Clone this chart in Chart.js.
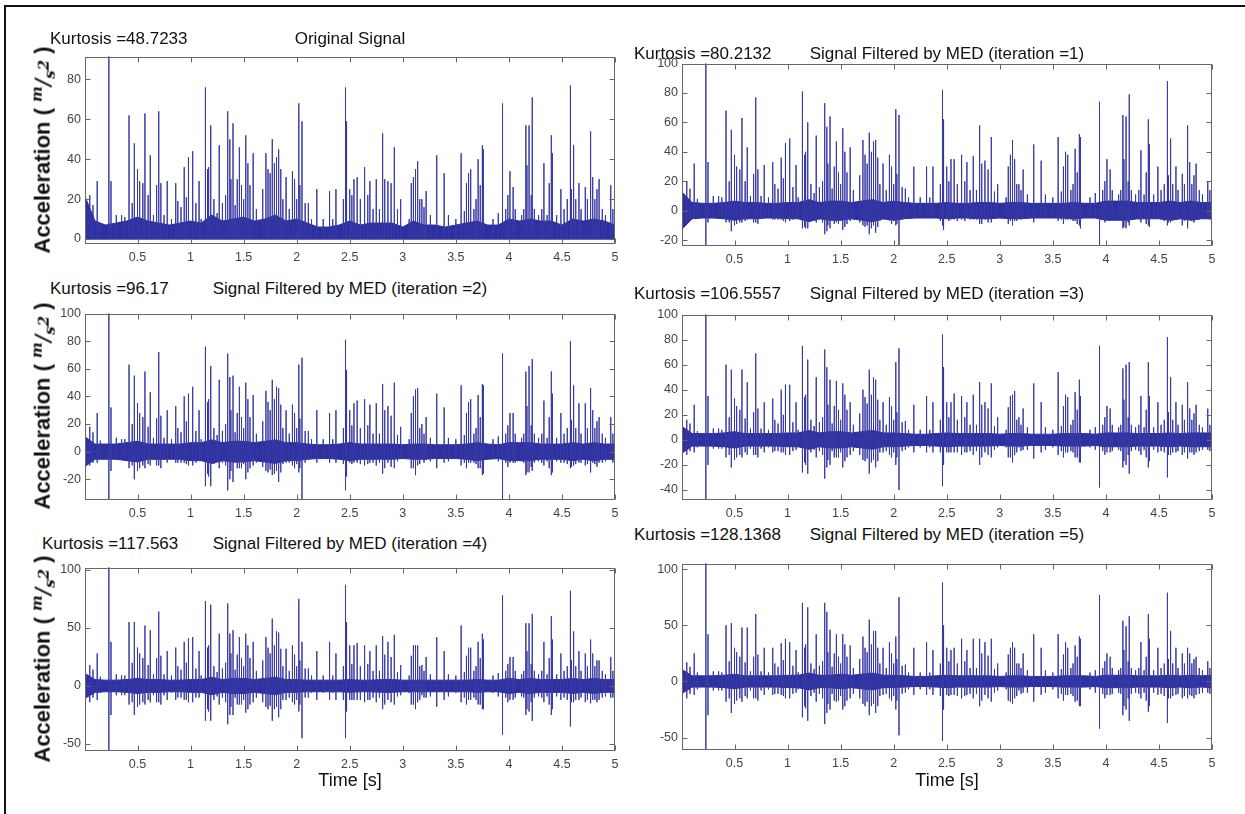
<!DOCTYPE html>
<html>
<head>
<meta charset="utf-8">
<script src="https://cdn.jsdelivr.net/npm/chart.js@4.4.1/dist/chart.umd.min.js"></script>
<style>
  body { margin: 0; background: #fff; width: 1245px; height: 814px; position: relative; overflow: hidden;
         font-family: "Liberation Sans", Arial, sans-serif; }
  #frame { position: absolute; left: 4px; top: 5px; width: 1260px; height: 830px;
           border-left: 2px solid #111; border-top: 2px solid #111; }
  canvas { position: absolute; }
  .kurt, .title, .xlab { position: absolute; font-size: 17px; color: #111; white-space: nowrap; }
  .kurt { transform: translateY(-50%); }
  .title { transform: translate(-50%, -50%); }
  .xlab { transform: translate(-50%, -50%); font-size: 18px; }
  .ylab { position: absolute; font-weight: bold; font-size: 22px; color: #111; white-space: nowrap;
          transform: translate(-50%, -50%) rotate(-90deg); }
  .ylab .u { font-family: "DejaVu Serif", "Liberation Serif", serif; font-style: italic; font-weight: bold; font-size: 20px; }
  .ylab sup, .ylab sub { font-size: 15px; }
</style>
</head>
<body>
<div id="frame"></div>
<script>
const fontFamily = '"Liberation Sans", Arial, sans-serif';

// main impact instants (s), shared by all six traces
const impactTimes = [
  0.01, 0.12, 0.23, 0.25, 0.42, 0.47, 0.57, 0.62, 0.70, 0.78,
  0.86, 0.94, 0.98, 1.02, 1.08, 1.14, 1.19, 1.27, 1.35, 1.40,
  1.46, 1.52, 1.59, 1.71, 1.77, 1.81, 1.83, 1.90, 1.96, 2.02,
  2.05, 2.11, 2.19, 2.31, 2.37, 2.46, 2.50, 2.54, 2.57, 2.64,
  2.69, 2.75, 2.81, 2.86, 2.92, 2.98, 3.10, 3.12, 3.14, 3.18,
  3.22, 3.32, 3.39, 3.55, 3.62, 3.64, 3.71, 3.75, 3.94, 4.01,
  4.04, 4.16, 4.19, 4.22, 4.33, 4.40, 4.49, 4.58, 4.61, 4.66,
  4.72, 4.77, 4.79, 4.85, 4.96
];

// peak values (m/s^2) at each main impact
const peaks0 = [
  43, 29, 95, 29, 62, 48, 63, 42, 64, 29,
  28, 36, 41, 44, 29, 76, 57, 47, 64, 58,
  46, 52, 43, 43, 50, 41, 45, 31, 34, 68,
  59, 18, 25, 24, 25, 76, 25, 30, 31, 36,
  29, 30, 53, 29, 46, 20, 31, 35, 39, 20,
  24, 42, 33, 43, 33, 35, 40, 47, 68, 34,
  26, 57, 57, 71, 38, 52, 25, 77, 47, 28,
  26, 54, 31, 30, 27
];
const peaks1 = [
  45, 32, 110, 33, 68, 55, 63, 43, 77, 31,
  33, 36, 46, 49, 31, 81, 60, 51, 73, 64,
  47, 56, 43, 48, 53, 47, 48, 32, 38, 69,
  65, 15, 30, 30, 30, 82, 30, 35, 35, 38,
  33, 37, 58, 34, 50, 18, 38, 48, 35, 18,
  28, 45, 34, 50, 40, 38, 42, 52, 74, 35,
  28, 65, 64, 79, 41, 62, 30, 88, 49, 30,
  25, 58, 33, 32, 20
];
const peaks2 = [
  35, 28, 110, 32, 63, 55, 58, 43, 72, 30,
  33, 40, 42, 47, 30, 76, 62, 52, 71, 55,
  47, 50, 41, 44, 52, 47, 46, 30, 34, 63,
  68, 15, 30, 28, 30, 81, 30, 35, 37, 38,
  34, 35, 49, 33, 50, 18, 40, 45, 46, 20,
  25, 42, 32, 48, 36, 38, 41, 49, 71, 28,
  28, 58, 62, 67, 37, 58, 28, 80, 48, 35,
  35, 46, 30, 25, 25
];
const peaks3 = [
  33, 28, 110, 35, 60, 56, 56, 46, 69, 30,
  33, 40, 44, 44, 30, 75, 64, 50, 72, 48,
  47, 45, 30, 40, 56, 50, 48, 30, 34, 62,
  73, 15, 28, 35, 30, 84, 30, 30, 37, 35,
  30, 36, 46, 30, 45, 18, 35, 36, 39, 18,
  25, 45, 30, 54, 36, 34, 38, 48, 75, 27,
  25, 57, 60, 62, 35, 62, 30, 82, 50, 30,
  28, 46, 25, 28, 25
];
const peaks4 = [
  40, 28, 120, 38, 55, 55, 52, 48, 64, 30,
  33, 38, 41, 42, 30, 73, 70, 45, 71, 48,
  42, 45, 38, 42, 58, 47, 46, 32, 35, 75,
  38, 15, 30, 38, 28, 87, 35, 35, 37, 35,
  30, 35, 43, 38, 44, 18, 35, 35, 35, 18,
  25, 42, 30, 52, 33, 33, 38, 45, 78, 25,
  25, 54, 54, 62, 38, 60, 28, 82, 47, 30,
  28, 40, 28, 22, 25
];
const peaks5 = [
  40, 25, 120, 42, 50, 52, 48, 48, 60, 30,
  30, 34, 38, 35, 28, 70, 66, 42, 70, 46,
  42, 42, 32, 40, 55, 45, 45, 30, 35, 40,
  75, 15, 30, 35, 28, 88, 30, 28, 30, 38,
  28, 38, 38, 35, 38, 16, 30, 35, 30, 16,
  25, 42, 30, 42, 35, 30, 32, 40, 77, 25,
  22, 54, 49, 58, 35, 60, 30, 79, 45, 30,
  25, 30, 25, 22, 18
];

// negative excursions of the MED filtered traces at each main impact
const dips1 = [
  -10, -5, -40, -8, -8, -14, -8, -6, -8, -5,
  -6, -6, -8, -7, -5, -12, -12, -8, -16, -12,
  -8, -13, -7, -10, -16, -10, -15, -6, -7, -10,
  -40, -4, -5, -5, -5, -10, -5, -6, -6, -6,
  -5, -6, -9, -6, -8, -4, -7, -10, -7, -4,
  -5, -8, -5, -7, -6, -6, -7, -10, -40, -6,
  -5, -12, -12, -10, -8, -10, -5, -10, -8, -6,
  -10, -12, -6, -6, -5
];
const dips2 = [
  -12, -8, -60, -14, -12, -20, -12, -10, -10, -8,
  -8, -8, -10, -10, -6, -25, -25, -12, -28, -22,
  -12, -20, -10, -14, -17, -14, -22, -8, -10, -15,
  -60, -6, -8, -8, -8, -28, -8, -8, -8, -10,
  -8, -10, -16, -8, -12, -5, -12, -17, -10, -5,
  -6, -12, -8, -10, -8, -8, -12, -17, -60, -8,
  -8, -17, -15, -14, -10, -17, -8, -12, -10, -8,
  -10, -15, -8, -8, -6
];
const dips3 = [
  -15, -10, -70, -20, -14, -22, -14, -12, -12, -10,
  -10, -10, -12, -12, -8, -26, -27, -14, -31, -20,
  -14, -22, -12, -16, -27, -16, -22, -10, -12, -20,
  -40, -8, -10, -10, -10, -37, -10, -10, -10, -12,
  -10, -12, -20, -10, -14, -6, -14, -18, -12, -6,
  -8, -15, -10, -12, -10, -10, -14, -18, -38, -10,
  -10, -22, -20, -27, -12, -22, -10, -30, -12, -10,
  -12, -15, -10, -10, -8
];
const dips4 = [
  -27, -12, -80, -25, -16, -25, -16, -14, -14, -12,
  -12, -12, -14, -14, -10, -30, -30, -16, -33, -25,
  -16, -23, -14, -18, -30, -18, -27, -12, -14, -22,
  -45, -10, -12, -12, -12, -45, -12, -12, -12, -14,
  -12, -14, -20, -12, -16, -8, -16, -20, -14, -8,
  -10, -18, -12, -14, -12, -12, -16, -20, -42, -12,
  -12, -25, -22, -30, -14, -25, -12, -35, -14, -12,
  -14, -15, -12, -12, -10
];
const dips5 = [
  -28, -12, -80, -30, -18, -28, -18, -15, -15, -12,
  -12, -12, -15, -15, -10, -32, -35, -18, -38, -25,
  -18, -25, -15, -20, -30, -20, -28, -12, -15, -25,
  -48, -10, -12, -12, -12, -53, -12, -12, -12, -15,
  -12, -15, -22, -12, -18, -8, -18, -20, -15, -8,
  -10, -18, -12, -15, -12, -12, -18, -22, -42, -12,
  -12, -30, -25, -35, -15, -27, -12, -37, -15, -12,
  -15, -15, -12, -12, -10
];

// smaller impulses between the main ones
const minorTimes = [
  0.05, 0.08, 0.15, 0.30, 0.35, 0.38, 0.45, 0.50, 0.52, 0.55,
  0.60, 0.65, 0.68, 0.72, 0.75, 0.82, 0.88, 0.91, 0.96, 1.05,
  1.10, 1.16, 1.17, 1.22, 1.25, 1.30, 1.33, 1.37, 1.38, 1.42,
  1.44, 1.48, 1.50, 1.54, 1.56, 1.62, 1.68, 1.73, 1.75, 1.79,
  1.85, 1.87, 1.93, 1.98, 2.00, 2.03, 2.08, 2.14, 2.25, 2.34,
  2.44, 2.47, 2.52, 2.60, 2.67, 2.72, 2.78, 2.83, 2.89, 2.95,
  3.06, 3.08, 3.16, 3.20, 3.26, 3.43, 3.50, 3.58, 3.60, 3.67,
  3.69, 3.73, 3.76, 3.85, 3.90, 3.97, 3.99, 4.06, 4.12, 4.14,
  4.17, 4.21, 4.24, 4.28, 4.31, 4.36, 4.38, 4.41, 4.45, 4.52,
  4.55, 4.59, 4.63, 4.68, 4.74, 4.81, 4.83, 4.88, 4.91, 4.98
];
const minorUp0 = [
  22, 17, 8, 12, 12, 11, 18, 35, 29, 28,
  22, 12, 27, 28, 12, 10, 19, 16, 21, 18,
  10, 35, 36, 20, 13, 18, 22, 50, 30, 17,
  30, 27, 20, 38, 27, 15, 25, 35, 33, 38,
  35, 20, 15, 30, 20, 27, 18, 10, 10, 10,
  20, 59, 22, 20, 22, 15, 15, 30, 28, 15,
  10, 28, 20, 16, 12, 12, 10, 14, 28, 15,
  20, 27, 45, 10, 13, 15, 22, 15, 12, 15,
  37, 22, 15, 12, 15, 12, 28, 43, 12, 15,
  20, 25, 20, 15, 20, 20, 25, 15, 12, 15
];
const minorUp1 = [
  20, 15, 8, 10, 10, 9, 20, 38, 30, 28,
  20, 10, 25, 28, 10, 9, 18, 15, 22, 16,
  9, 38, 40, 18, 12, 16, 20, 57, 32, 15,
  30, 26, 18, 40, 26, 14, 24, 38, 32, 40,
  36, 18, 14, 30, 18, 25, 16, 9, 9, 9,
  18, 62, 20, 18, 20, 14, 14, 32, 28, 13,
  9, 30, 18, 14, 11, 11, 9, 13, 30, 14,
  18, 26, 50, 9, 12, 14, 20, 14, 11, 14,
  35, 20, 14, 11, 14, 11, 26, 45, 11, 14,
  18, 24, 18, 14, 18, 18, 24, 14, 11, 14
];
const minorDown1 = [
  -8, -6, -4, -5, -5, -5, -8, -10, -9, -8,
  -7, -5, -8, -9, -5, -4, -6, -6, -7, -6,
  -4, -11, -12, -7, -5, -6, -8, -14, -10, -6,
  -9, -9, -7, -11, -9, -6, -8, -11, -10, -12,
  -11, -7, -6, -9, -7, -9, -6, -4, -4, -4,
  -7, -13, -7, -7, -7, -6, -6, -9, -8, -5,
  -4, -9, -7, -6, -5, -5, -4, -6, -9, -6,
  -7, -9, -12, -4, -5, -6, -8, -6, -5, -6,
  -11, -8, -6, -5, -6, -5, -9, -11, -5, -6,
  -7, -8, -7, -6, -7, -7, -8, -6, -5, -6
];
const minorUp2 = [
  18, 14, 8, 10, 9, 9, 20, 35, 28, 25,
  18, 10, 24, 26, 10, 9, 17, 14, 22, 15,
  9, 36, 38, 17, 12, 15, 20, 54, 30, 14,
  28, 25, 17, 38, 25, 13, 22, 36, 30, 38,
  34, 17, 13, 28, 17, 24, 15, 9, 9, 9,
  17, 59, 19, 17, 19, 13, 13, 30, 26, 12,
  9, 28, 17, 13, 10, 10, 9, 12, 28, 13,
  17, 25, 48, 9, 11, 13, 19, 13, 10, 13,
  33, 19, 13, 10, 13, 10, 25, 42, 10, 13,
  17, 23, 17, 13, 17, 17, 22, 13, 10, 13
];
const minorDown2 = [
  -10, -8, -5, -6, -6, -6, -10, -14, -12, -10,
  -9, -6, -10, -12, -6, -5, -8, -8, -9, -8,
  -5, -16, -18, -9, -7, -8, -10, -20, -14, -8,
  -12, -12, -9, -15, -12, -8, -11, -15, -13, -16,
  -15, -9, -8, -12, -9, -12, -8, -5, -5, -5,
  -9, -18, -9, -9, -9, -8, -8, -12, -11, -7,
  -5, -12, -9, -8, -7, -7, -5, -8, -12, -8,
  -9, -12, -16, -5, -7, -8, -11, -8, -7, -8,
  -15, -11, -8, -7, -8, -7, -12, -15, -7, -8,
  -9, -11, -9, -8, -9, -9, -11, -8, -7, -8
];
const minorUp3 = [
  16, 13, 7, 9, 9, 8, 18, 33, 27, 24,
  17, 9, 22, 25, 9, 8, 16, 13, 20, 14,
  8, 34, 36, 16, 11, 14, 18, 58, 28, 13,
  27, 24, 16, 36, 24, 12, 21, 34, 29, 36,
  32, 16, 12, 27, 16, 22, 14, 8, 8, 8,
  16, 58, 18, 16, 18, 12, 12, 28, 25, 11,
  8, 26, 16, 12, 10, 10, 8, 11, 27, 12,
  16, 24, 35, 8, 10, 12, 18, 12, 10, 12,
  32, 18, 12, 10, 12, 10, 24, 35, 10, 12,
  16, 22, 16, 12, 16, 16, 21, 12, 10, 12
];
const minorDown3 = [
  -12, -9, -6, -7, -7, -7, -12, -16, -14, -12,
  -10, -7, -12, -14, -7, -6, -9, -9, -10, -9,
  -6, -18, -20, -10, -8, -9, -12, -22, -16, -9,
  -14, -14, -10, -17, -14, -9, -12, -17, -15, -18,
  -17, -10, -9, -14, -10, -14, -9, -6, -6, -6,
  -10, -20, -10, -10, -10, -9, -9, -14, -12, -8,
  -6, -14, -10, -9, -8, -8, -6, -9, -14, -9,
  -10, -14, -18, -6, -8, -9, -12, -9, -8, -9,
  -17, -12, -9, -8, -9, -8, -14, -17, -8, -9,
  -10, -12, -10, -9, -10, -10, -12, -9, -8, -9
];
const minorUp4 = [
  18, 14, 8, 10, 9, 9, 20, 33, 28, 24,
  18, 10, 24, 26, 10, 9, 17, 14, 20, 15,
  9, 33, 35, 17, 12, 15, 20, 45, 28, 14,
  27, 24, 17, 35, 24, 13, 22, 33, 28, 35,
  32, 17, 13, 27, 17, 22, 15, 9, 9, 9,
  17, 55, 19, 17, 19, 13, 13, 27, 25, 12,
  9, 26, 17, 13, 10, 10, 9, 12, 26, 13,
  17, 24, 40, 9, 11, 13, 19, 13, 10, 13,
  30, 19, 13, 10, 13, 10, 24, 40, 10, 13,
  17, 22, 17, 13, 17, 17, 22, 13, 10, 13
];
const minorDown4 = [
  -14, -10, -6, -8, -8, -8, -14, -18, -16, -14,
  -12, -8, -14, -16, -8, -6, -10, -10, -12, -10,
  -6, -20, -22, -12, -9, -10, -14, -25, -18, -10,
  -16, -16, -12, -20, -16, -10, -14, -20, -17, -20,
  -20, -12, -10, -16, -12, -16, -10, -6, -6, -6,
  -12, -22, -12, -12, -12, -10, -10, -16, -14, -9,
  -6, -16, -12, -10, -9, -9, -6, -10, -16, -10,
  -12, -16, -20, -6, -9, -10, -14, -10, -9, -10,
  -20, -14, -10, -9, -10, -9, -16, -20, -9, -10,
  -12, -14, -12, -10, -12, -12, -14, -10, -9, -10
];
const minorUp5 = [
  17, 13, 8, 9, 9, 8, 18, 30, 26, 22,
  17, 9, 22, 24, 9, 8, 16, 13, 19, 14,
  8, 30, 33, 16, 11, 14, 18, 62, 26, 13,
  25, 22, 16, 33, 22, 12, 20, 30, 26, 33,
  30, 16, 12, 25, 16, 20, 14, 8, 8, 8,
  16, 50, 18, 16, 18, 12, 12, 25, 23, 11,
  8, 24, 16, 12, 10, 10, 8, 11, 24, 12,
  16, 22, 38, 8, 10, 12, 18, 12, 10, 12,
  28, 18, 12, 10, 12, 10, 22, 38, 10, 12,
  16, 20, 16, 12, 16, 16, 20, 12, 10, 12
];
const minorDown5 = [
  -15, -11, -7, -8, -8, -8, -15, -20, -17, -15,
  -13, -8, -15, -17, -8, -7, -11, -11, -13, -11,
  -7, -22, -24, -13, -10, -11, -15, -28, -20, -11,
  -17, -17, -13, -22, -17, -11, -15, -22, -18, -22,
  -22, -13, -11, -17, -13, -17, -11, -7, -7, -7,
  -13, -25, -13, -13, -13, -11, -11, -17, -15, -10,
  -7, -17, -13, -11, -10, -10, -7, -11, -17, -11,
  -13, -17, -22, -7, -10, -11, -15, -11, -10, -11,
  -22, -15, -11, -10, -11, -10, -17, -22, -10, -11,
  -13, -15, -13, -11, -13, -13, -15, -11, -10, -11
];

// half width of the dense noise band, sampled every 0.1 s from 0 to 5 s
const floorStep = 0.1;
const floor0 = [22, 9, 7, 8, 9, 11, 9, 8, 7, 8, 9, 8, 12, 9, 10, 11, 9, 10, 12, 9, 10, 8, 6, 6, 7, 9, 7, 8, 8, 8, 6, 9, 7, 7, 6, 7, 8, 9, 7, 7, 10, 9, 10, 9, 9, 7, 10, 9, 10, 9, 7];
const floor1 = [13, 5.5, 5, 5, 5.5, 6.5, 5.5, 5.5, 5, 5, 5.5, 5.5, 7.5, 5.5, 6.5, 6.5, 5.5, 6.5, 7.5, 5.5, 6.5, 5.5, 5, 5, 5, 5.5, 5, 5, 5.5, 5.5, 5, 5.5, 5.5, 5, 5, 5, 5, 5.5, 5, 5, 6.5, 6.5, 6.5, 5.5, 5.5, 5.5, 6.5, 5.5, 6.5, 5.5, 5.5];
const floor2 = [11, 5.5, 5.5, 5.5, 6.5, 7.5, 5.5, 5.5, 5.5, 5.5, 6.5, 6.5, 8.5, 6.5, 7.5, 7.5, 6.5, 7.5, 8.5, 6.5, 6.5, 5.5, 5, 5, 5.5, 6.5, 5.5, 5.5, 5.5, 5.5, 5, 5.5, 5.5, 5, 5, 5, 5.5, 6.5, 5.5, 5, 6.5, 6.5, 6.5, 5.5, 5.5, 5.5, 6.5, 5.5, 6.5, 5.5, 5.5];
const floor3 = [11, 5, 5, 5, 5.5, 6.5, 5, 5, 5, 5, 5.5, 5.5, 7.5, 5.5, 6.5, 6.5, 5.5, 6.5, 7.5, 5.5, 5.5, 5, 4.5, 4.5, 5, 5.5, 5, 5, 5, 5, 4.5, 5, 5, 4.5, 4.5, 4.5, 5, 5, 5, 4.5, 5.5, 5.5, 5.5, 5, 5, 5, 5.5, 5, 5.5, 5.5, 5.5];
const floor4 = [11, 5.5, 5, 5, 5.5, 6.5, 5.5, 5.5, 5, 5, 5.5, 5.5, 7.5, 5.5, 6.5, 6.5, 5.5, 6.5, 7.5, 5.5, 5.5, 5, 5, 5, 5, 5.5, 5, 5, 5.5, 5.5, 5, 5, 5, 5, 5, 5, 5, 5.5, 5, 5, 6.5, 5.5, 6.5, 5.5, 5.5, 5.5, 6.5, 5.5, 6.5, 5.5, 5.5];
const floor5 = [11, 5, 5, 5, 5.5, 6.5, 5, 5, 5, 5, 5.5, 5.5, 7.5, 5.5, 5.5, 6.5, 5.5, 6.5, 7.5, 5.5, 5.5, 5, 4.5, 4.5, 5, 5.5, 5, 5, 5, 5, 4.5, 5, 5, 4.5, 4.5, 4.5, 5, 5, 5, 4.5, 5.5, 5.5, 5.5, 5, 5, 5, 5.5, 5, 5.5, 5, 5.5];

const kurtosis = ['48.7233', '80.2132', '96.17', '106.5557', '117.563', '128.1368'];
const titles = ['Original Signal', 'Signal Filtered by MED (iteration =1)', 'Signal Filtered by MED (iteration =2)',
  'Signal Filtered by MED (iteration =3)', 'Signal Filtered by MED (iteration =4)', 'Signal Filtered by MED (iteration =5)'];

const xTicks = [0.5, 1, 1.5, 2, 2.5, 3, 3.5, 4, 4.5, 5];
const yTicks0 = [0, 20, 40, 60, 80];
const yTicks1 = [-20, 0, 20, 40, 60, 80, 100];
const yTicks2 = [-20, 0, 20, 40, 60, 80, 100];
const yTicks3 = [-40, -20, 0, 20, 40, 60, 80, 100];
const yTicks4 = [-50, 0, 50, 100];
const yTicks5 = [-50, 0, 50, 100];

// plot boxes on the page and axis limits
const panels = [
  { L: 85,  T: 55,  R: 615,  B: 244, ymin: -2.5, ymax: 91.5, peaks: peaks0, dips: null,  up: minorUp0, down: null,       floor: floor0, yt: yTicks0, kx: 50,  hy: 39 },
  { L: 682, T: 62,  R: 1212, B: 246, ymin: -24,  ymax: 100,  peaks: peaks1, dips: dips1, up: minorUp1, down: minorDown1, floor: floor1, yt: yTicks1, kx: 634, hy: 54 },
  { L: 85,  T: 312, R: 615,  B: 500, ymin: -35,  ymax: 100,  peaks: peaks2, dips: dips2, up: minorUp2, down: minorDown2, floor: floor2, yt: yTicks2, kx: 50,  hy: 289 },
  { L: 682, T: 313, R: 1212, B: 500, ymin: -48,  ymax: 100,  peaks: peaks3, dips: dips3, up: minorUp3, down: minorDown3, floor: floor3, yt: yTicks3, kx: 634, hy: 294 },
  { L: 85,  T: 566, R: 615,  B: 751, ymin: -56,  ymax: 102,  peaks: peaks4, dips: dips4, up: minorUp4, down: minorDown4, floor: floor4, yt: yTicks4, kx: 42,  hy: 544 },
  { L: 682, T: 562, R: 1212, B: 750, ymin: -61,  ymax: 105,  peaks: peaks5, dips: dips5, up: minorUp5, down: minorDown5, floor: floor5, yt: yTicks5, kx: 634, hy: 535 }
];

const lineBlue = 'rgb(56,58,164)';
const bandBlue = 'rgb(44,48,160)';

function spikePoints(p){
  const ev = [];
  impactTimes.forEach((t, i) => ev.push([t, p.peaks[i], p.dips ? p.dips[i] : 0]));
  minorTimes.forEach((t, i) => ev.push([t, p.up[i], p.down ? p.down[i] : 0]));
  ev.sort((a, b) => a[0] - b[0]);
  const pts = [];
  ev.forEach(([t, hi, lo]) => {
    pts.push({ x: t, y: 0 }, { x: t, y: hi }, { x: t, y: lo }, { x: t, y: 0 });
  });
  return pts;
}
function floorPoints(floor, sign){
  return floor.map((a, i) => ({ x: i * floorStep, y: sign * a }));
}

// MATLAB style box with inward ticks on all four sides
const boxPlugin = {
  id: 'box',
  afterDraw(chart){
    const { ctx, chartArea: a, scales: { x, y } } = chart;
    const l = Math.round(a.left) + 0.5, r = Math.round(a.right) - 0.5;
    const t = Math.round(a.top) + 0.5, b = Math.round(a.bottom) - 0.5;
    ctx.save();
    ctx.strokeStyle = '#666';
    ctx.lineWidth = 1;
    ctx.beginPath();
    x.ticks.forEach(tk => {
      const px = Math.round(x.getPixelForValue(tk.value)) + 0.5;
      ctx.moveTo(px, b); ctx.lineTo(px, b - 5);
      ctx.moveTo(px, t); ctx.lineTo(px, t + 5);
    });
    y.ticks.forEach(tk => {
      const py = Math.round(y.getPixelForValue(tk.value)) + 0.5;
      ctx.moveTo(l, py); ctx.lineTo(l + 5, py);
      ctx.moveTo(r, py); ctx.lineTo(r - 5, py);
    });
    ctx.stroke();
    ctx.strokeRect(l, t, r - l, b - t);
    ctx.restore();
  }
};

function addText(cls, html, left, top){
  const d = document.createElement('div');
  d.className = cls;
  d.innerHTML = html;
  d.style.left = left + 'px';
  d.style.top = top + 'px';
  document.body.appendChild(d);
}

panels.forEach((p, k) => {
  const W = p.R - p.L, H = p.B - p.T;
  const cv = document.createElement('canvas');
  cv.width = W + 50; cv.height = H + 35;
  cv.style.left = (p.L - 40) + 'px';
  cv.style.top = (p.T - 10) + 'px';
  document.body.appendChild(cv);

  new Chart(cv, {
    type: 'line',
    data: {
      datasets: [
        { data: spikePoints(p), borderColor: lineBlue, borderWidth: 1, pointRadius: 0, tension: 0, clip: 0, order: 0 },
        { data: floorPoints(p.floor, 1), borderColor: bandBlue, backgroundColor: bandBlue, borderWidth: 1, pointRadius: 0, tension: 0, fill: '+1', clip: 0, order: 1 },
        { data: floorPoints(p.floor, p.dips ? -1 : 0), borderColor: bandBlue, borderWidth: 1, pointRadius: 0, tension: 0, clip: 0, order: 2 }
      ]
    },
    options: {
      responsive: false, animation: false, devicePixelRatio: 1,
      layout: { padding: { top: 10, right: 10, left: 0, bottom: 0 } },
      plugins: { legend: { display: false }, tooltip: { enabled: false } },
      scales: {
        x: {
          type: 'linear', min: 0.005, max: 5,
          grid: { display: false, drawTicks: false }, border: { display: false },
          afterBuildTicks: s => { s.ticks = xTicks.map(v => ({ value: v })); },
          afterFit: s => { s.height = 25; },
          ticks: { color: '#444', font: { size: 12.5, family: fontFamily }, padding: 6, maxRotation: 0, autoSkip: false,
                   callback: v => String(v) }
        },
        y: {
          min: p.ymin, max: p.ymax,
          grid: { display: false, drawTicks: false }, border: { display: false },
          afterBuildTicks: s => { s.ticks = p.yt.map(v => ({ value: v })); },
          afterFit: s => { s.width = 40; },
          ticks: { color: '#444', font: { size: 12.5, family: fontFamily }, padding: 4, autoSkip: false,
                   callback: v => String(v) }
        }
      }
    },
    plugins: [boxPlugin]
  });

  addText('kurt', 'Kurtosis =' + kurtosis[k], p.kx, p.hy);
  addText('title', titles[k], (p.L + p.R) / 2, p.hy);
  if (k % 2 === 0) {
    addText('ylab', 'Acceleration ( <span class="u"><sup>m</sup>/<sub>s<sup>2</sup></sub></span> )', 43, (p.T + p.B) / 2);
  }
  if (k >= 4) {
    addText('xlab', 'Time [s]', (p.L + p.R) / 2, 780);
  }
});
</script>
</body>
</html>
